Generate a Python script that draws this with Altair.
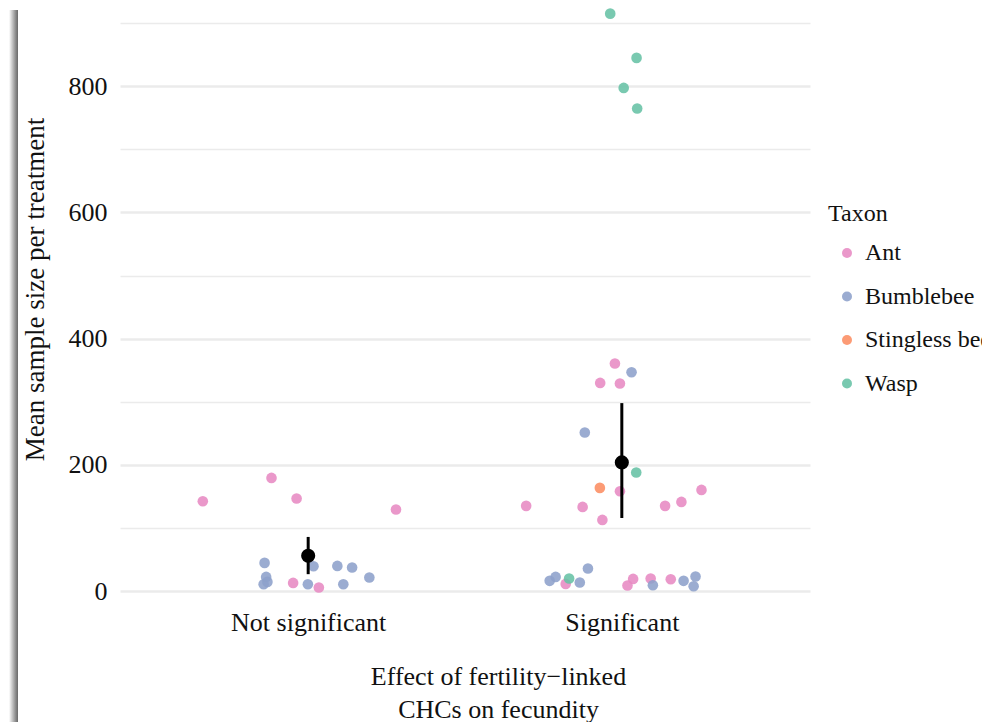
import altair as alt
import pandas as pd

# ---- data ----
groups = ["Not significant", "Significant"]
taxa = ["Ant", "Bumblebee", "Stingless bee", "Wasp"]
taxon_colors = ["#E78AC3", "#8DA0CB", "#FC8D62", "#66C2A5"]

ns_taxon = ["Ant"] * 6 + ["Bumblebee"] * 10
ns_value = [142.6, 179.5, 146.8, 129.4, 13.2, 5.8,
            44.9, 22.7, 11.1, 14.8, 11.1, 39.6, 40.1, 37.5, 11.1, 21.7]
ns_jitter = [-0.336, -0.117, -0.037, 0.280, -0.048, 0.034,
             -0.139, -0.134, -0.142, -0.130, -0.001, 0.017, 0.093, 0.140, 0.112, 0.195]

sig_taxon = (["Ant"] * 15 + ["Bumblebee"] * 10 + ["Stingless bee"] + ["Wasp"] * 6)
sig_value = [360.7, 330.0, 329.0, 158.4, 160.5, 135.2, 133.6, 113.0, 135.2, 141.5,
             11.6, 19.5, 9.0, 20.1, 19.0,
             346.9, 251.4, 16.4, 22.7, 13.8, 36.0, 9.5, 16.4, 23.3, 7.9,
             163.7,
             188.0, 20.1, 915.0, 844.9, 797.3, 764.7]
sig_jitter = [-0.022, -0.069, -0.006, -0.006, 0.254, -0.305, -0.125, -0.062, 0.138, 0.190,
              -0.179, 0.036, 0.018, 0.092, 0.156,
              0.031, -0.118, -0.230, -0.211, -0.134, -0.108, 0.099, 0.197, 0.235, 0.229,
              -0.070,
              0.046, -0.168, -0.037, 0.047, 0.006, 0.049]

mean_value = [56.0, 204.0]
mean_lower = [27.0, 116.0]
mean_upper = [86.0, 298.0]

# ---- tables ----
pts = pd.DataFrame({
    "group": [groups[0]] * len(ns_value) + [groups[1]] * len(sig_value),
    "taxon": ns_taxon + sig_taxon,
    "value": ns_value + sig_value,
    "jitter": ns_jitter + sig_jitter,
})
pts["gidx"] = pts["group"].map({g: i + 1 for i, g in enumerate(groups)})
pts["xpos"] = pts["gidx"] + pts["jitter"]

summ = pd.DataFrame({
    "group": groups,
    "gidx": [1, 2],
    "mean": mean_value,
    "lower": mean_lower,
    "upper": mean_upper,
})

FONT = "Liberation Serif"
TXT = "#111111"

xscale = alt.Scale(domain=[0.4, 2.6], zero=False, nice=False)
yscale = alt.Scale(domain=[-25, 935], zero=False, nice=False)

xaxis = alt.Axis(
    values=[1, 2],
    labelExpr="datum.value == 1 ? 'Not significant' : 'Significant'",
    title=["Effect of fertility\u2212linked", "CHCs on fecundity"],
    grid=False, ticks=False, domain=False,
    labelFont=FONT, labelFontSize=26, labelColor=TXT, labelPadding=2,
    titleFont=FONT, titleFontSize=26, titleColor=TXT, titleFontWeight="normal",
    titleLineHeight=33, titleX=378, titleY=56, titleBaseline="top",
    titleAlign="center", titleAnchor="middle",
)
yaxis = alt.Axis(
    values=list(range(0, 1000, 100)),
    labelExpr="datum.value % 200 === 0 ? datum.label : ''",
    title="Mean sample size per treatment",
    grid=True, gridColor="#ebebeb",
    gridWidth={"condition": {"test": "datum.value % 200 === 0", "value": 2.5}, "value": 1.3},
    ticks=False, domain=False,
    labelFont=FONT, labelFontSize=26, labelColor=TXT, labelPadding=13,
    titleFont=FONT, titleFontSize=27, titleColor=TXT, titleFontWeight="normal",
    titleX=-85, titleY=288, titleBaseline="middle", titleAngle=270,
    titleAlign="center",
)

points = alt.Chart(pts).mark_circle(size=113, opacity=0.88).encode(
    x=alt.X("xpos:Q", scale=xscale, axis=xaxis),
    y=alt.Y("value:Q", scale=yscale, axis=yaxis),
    color=alt.Color(
        "taxon:N",
        scale=alt.Scale(domain=taxa, range=taxon_colors),
        legend=alt.Legend(
            title="Taxon", orient="none", legendX=708, legendY=201,
            titleFont=FONT, titleFontSize=24, titleColor=TXT, titleFontWeight="normal",
            labelFont=FONT, labelFontSize=24, labelColor=TXT,
            symbolType="circle", symbolSize=100, symbolOffset=7, labelOffset=6,
            symbolStrokeWidth=0, symbolOpacity=0.88,
            rowPadding=19.5, titlePadding=15, padding=0, labelLimit=400,
        ),
    ),
)

bars = alt.Chart(summ).mark_rule(color="black", strokeWidth=3).encode(
    x=alt.X("gidx:Q", scale=xscale),
    y=alt.Y("lower:Q", scale=yscale),
    y2="upper:Q",
)
means = alt.Chart(summ).mark_circle(color="black", size=200, opacity=1).encode(
    x=alt.X("gidx:Q", scale=xscale),
    y=alt.Y("mean:Q", scale=yscale),
)

shadow = alt.Chart(pd.DataFrame({"a": [0]})).mark_rect(
    color=alt.LinearGradient(
        gradient="linear",
        stops=[alt.GradientStop(color="#ffffff", offset=0),
               alt.GradientStop(color="#8a8a8a", offset=0.75),
               alt.GradientStop(color="#6a6a6a", offset=1)],
        x1=0, x2=1, y1=0, y2=0,
    )
).encode(
    x=alt.value(-111), x2=alt.value(-102), y=alt.value(9), y2=alt.value(730)
)

chart = alt.layer(shadow, points, bars, means).properties(
    width=690, height=606,
    padding={"left": 120, "top": 1, "right": 172, "bottom": 115},
    autosize=alt.AutoSizeParams(type="none"),
    background="white",
).configure_view(stroke=None)

chart.save("out.html", embed_options={"renderer": "svg", "actions": False})
